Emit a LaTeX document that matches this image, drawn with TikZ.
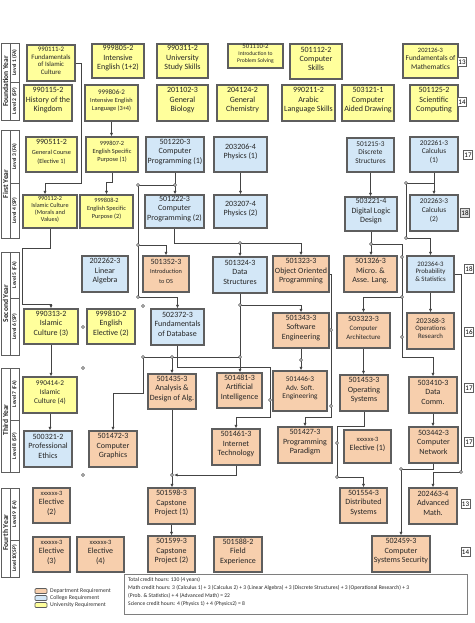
\documentclass[tikz,border=0pt]{standalone}
\usepackage{fontspec}
\setmainfont{Carlito}
\usetikzlibrary{arrows.meta,fit,calc}
\definecolor{yel}{HTML}{FFFF9C}
\definecolor{blu}{HTML}{D3E7F7}
\definecolor{pch}{HTML}{F7CFAD}
\definecolor{brd}{HTML}{5E5E5E}
\definecolor{lnc}{HTML}{444444}
\newcommand\cb[7]{\node[#2, fit={(#3,#4) (#5,#6)}] (#1) {#7};}
\newcommand\sml[1]{{\fontsize{6.3}{7.5}\selectfont #1}}
\tikzset{
  bx/.style={draw=brd, line width=1.1pt, align=center, inner sep=0pt, text=black!85},
  uni/.style={bx, fill=yel},
  col/.style={bx, fill=blu},
  dep/.style={bx, fill=pch},
  f8/.style={font=\fontsize{8}{9.4}\selectfont},
  f7/.style={font=\fontsize{7.3}{8.6}\selectfont},
  f65/.style={font=\fontsize{6.8}{7.6}\selectfont},
  f6/.style={font=\fontsize{6.3}{8}\selectfont},
  f6t/.style={font=\fontsize{6.2}{7.1}\selectfont},
  f55/.style={font=\fontsize{5.6}{6.6}\selectfont},
  cn/.style={draw=lnc, line width=0.9pt},
  arr/.style={cn, -{Latex[length=3.6pt,width=3.2pt]}},
  jc/.style={circle, draw=lnc, fill=white, inner sep=0pt, minimum size=3pt, line width=0.6pt},
  cr/.style={draw=brd, line width=0.7pt, fill=white, font=\fontsize{7}{8}\selectfont, inner sep=0.8pt, minimum size=9pt},
  yr/.style={rotate=90, font=\bfseries\fontsize{7.5}{8}\selectfont, text=black!85},
  lv/.style={rotate=90, font=\bfseries\fontsize{5.6}{6}\selectfont, text=black!85},
  lbox/.style={draw=brd, line width=0.7pt},
  sw/.style={draw=brd, line width=0.7pt, rounded corners=1pt, minimum width=12pt, minimum height=5pt, inner sep=0pt}
}
\begin{document}
\begin{tikzpicture}[x=1pt,y=-1pt]
\useasboundingbox (0,0) rectangle (474,623);
\fill[white] (0,0) rectangle (474,623);

% ---------- left year / level column ----------
\newcommand\yearcol[7]{%
  \draw[lbox] (1,#1) rectangle (19,#3);
  \draw[lbox] (10,#1) -- (10,#3);
  \draw[lbox] (10,#2) -- (19,#2);
  \node[yr] (#7) at (5.5,{(#1+#3)/2}) {#4};
  \node[lv] (#7a) at (14.5,{(#1+#2)/2}) {#5};
  \node[lv] (#7b) at (14.5,{(#2+#3)/2}) {#6};}
\yearcol{43}{82}{120}{Foundation Year}{Level 1 (FA)}{Level 2 (SP)}{yF}
\yearcol{130}{183}{238}{First Year}{Level 3 (FA)}{Level 4 (SP)}{y1}
\yearcol{252}{298}{355}{Second Year}{Level 5 (FA)}{Level 6 (SP)}{y2}
\yearcol{368}{420}{472}{Third Year}{Level 7 (FA)}{Level 8 (SP)}{y3}
\yearcol{488}{540}{577}{Fourth Year}{Level 9 (FA)}{Level10(SP)}{y4}

% ---------- row 1 ----------
\cb{c990111}{uni,f65}{27}{45}{75}{81}{990111-2\\Fundamentals\\of Islamic\\Culture}
\cb{c999805}{uni,f8}{92}{44}{144}{78}{999805-2\\Intensive\\English (1+2)}
\cb{c990311}{uni,f8}{157}{44}{208}{78}{990311-2\\University\\Study Skills}
\cb{c501110}{uni,f55}{228}{44}{283}{68}{{\fontsize{6.8}{8}\selectfont 501110-2}\\Introduction to\\Problem Solving}
\cb{c501112}{uni,f8}{290}{44}{342}{79}{501112-2\\Computer\\Skills}
\cb{c202126}{uni,f7}{403}{44}{458}{78}{{\fontsize{6.5}{8}\selectfont 202126-3}\\Fundamentals of\\Mathematics}
% ---------- row 2 ----------
\cb{c990115}{uni,f8}{24}{85}{72}{121}{990115-2\\History of the\\Kingdom}
\cb{c999806}{uni,f6}{85}{85}{138}{121}{{\fontsize{7}{8}\selectfont 999806-2}\\Intensive English\\Language (3+4)}
\cb{c201102}{uni,f8}{157}{85}{208}{121}{201102-3\\General\\Biology}
\cb{c204124}{uni,f8}{217}{85}{268}{121}{204124-2\\General\\Chemistry}
\cb{c990211}{uni,f8}{282}{85}{335}{121}{990211-2\\Arabic\\Language Skills}
\cb{c503121}{uni,f8}{342}{85}{394}{121}{503121-1\\Computer\\Aided Drawing}
\cb{c501125}{uni,f8}{410}{85}{458}{121}{501125-2\\Scientific\\Computing}
% ---------- row 3 ----------
\cb{c990511}{uni,f8}{26}{137}{77}{172}{990511-2\\\sml{General Course}\\\sml{(Elective 1)}}
\cb{c999807}{uni,f6}{86}{137}{138}{172}{999807-2\\English Specific\\Purpose (1)}
\cb{c501220}{col,f8}{146}{137}{204}{172}{501220-3\\Computer\\Programming (1)}
\cb{c203206}{col,f8}{214}{137}{267}{172}{203206-4\\Physics (1)}
\cb{c501215}{col,f7}{347}{138}{394}{172}{501215-3\\Discrete\\Structures}
\cb{c202261}{col,f7}{410}{137}{458}{172}{202261-3\\Calculus\\(1)}
% ---------- row 4 ----------
\cb{c990112}{uni,f6t}{23}{195}{77}{228}{990112-2\\Islamic Culture\\(Morals and\\Values)}
\cb{c999808}{uni,f6}{80}{195}{133}{228}{999808-2\\English Specific\\Purpose (2)}
\cb{c501222}{col,f8}{145}{195}{204}{228}{501222-3\\Computer\\Programming (2)}
\cb{c203207}{col,f8}{214}{195}{267}{228}{203207-4\\Physics (2)}
\cb{c503221}{col,f8}{345}{197}{397}{231}{503221-4\\Digital Logic\\Design}
\cb{c202263}{col,f7}{410}{195}{458}{231}{202263-3\\Calculus\\(2)}
% ---------- row 5 ----------
\cb{c202262}{col,f8}{82}{256}{128}{292}{202262-3\\Linear\\Algebra}
\cb{c501352}{dep,f8}{143}{256}{189}{292}{501352-3\\\sml{Introduction}\\\sml{to OS}}
\cb{c501324}{col,f8}{213}{257}{267}{293}{501324-3\\Data\\Structures}
\cb{c501323}{dep,f8}{273}{256}{329}{292}{501323-3\\Object Oriented\\Programming}
\cb{c501326}{dep,f8}{344}{256}{397}{292}{501326-3\\Micro. \&\\Asse. Lang.}
\cb{c202364}{col,f65}{407}{256}{454}{292}{202364-3\\Probability\\\& Statistics}
% ---------- row 6 ----------
\cb{c990313}{uni,f8}{24}{309}{78}{344}{990313-2\\Islamic\\Culture (3)}
\cb{c999810}{uni,f8}{87}{309}{135}{344}{999810-2\\English\\Elective (2)}
\cb{c502372}{col,f8}{151}{309}{204}{345}{502372-3\\Fundamentals\\of Database}
\cb{c501343}{dep,f8}{273}{313}{329}{348}{501343-3\\Software\\Engineering}
\cb{c503323}{dep,f8}{337}{313}{390}{348}{503323-3\\{\fontsize{6.8}{8}\selectfont Computer}\\{\fontsize{6.8}{8}\selectfont Architecture}}
\cb{c202368}{dep,f65}{407}{313}{454}{349}{{\fontsize{7.5}{8}\selectfont 202368-3}\\Operations\\Research}
% ---------- row 7 ----------
\cb{c990414}{uni,f7}{23}{377}{77}{413}{990414-2\\Islamic\\Culture (4)}
\cb{c501435}{dep,f8}{148}{374}{196}{409}{501435-3\\Analysis \&\\Design of Alg.}
\cb{c501481}{dep,f8}{217}{373}{262}{408}{501481-3\\Artificial\\Intelligence}
\cb{c501446}{dep,f7}{273}{371}{327}{411}{501446-3\\Adv. Soft.\\Engineering}
\cb{c501453}{dep,f8}{340}{375}{388}{411}{501453-3\\Operating\\Systems}
\cb{c503410}{dep,f8}{409}{377}{457}{413}{503410-3\\Data\\Comm.}
% ---------- row 8 ----------
\cb{c500321}{col,f8}{24}{431}{72}{467}{500321-2\\Professional\\Ethics}
\cb{c501472}{dep,f8}{89}{431}{137}{467}{501472-3\\Computer\\Graphics}
\cb{c501461}{dep,f8}{212}{429}{260}{465}{501461-3\\Internet\\Technology}
\cb{c501427}{dep,f8}{278}{427}{332}{463}{501427-3\\Programming\\Paradigm}
\cb{cel1}{dep,f8}{344}{430}{391}{463}{{\fontsize{6.5}{8}\selectfont xxxxxx-3}\\Elective (1)}
\cb{c503442}{dep,f8}{409}{427}{458}{463}{503442-3\\Computer\\Network}
% ---------- row 9 ----------
\cb{cel2}{dep,f8}{33}{488}{70}{523}{{\fontsize{6.5}{8}\selectfont xxxxxx-3}\\Elective\\(2)}
\cb{c501598}{dep,f8}{148}{488}{195}{524}{501598-3\\Capstone\\Project (1)}
\cb{c501554}{dep,f8}{340}{488}{387}{523}{501554-3\\Distributed\\Systems}
\cb{c202463}{dep,f8}{409}{488}{457}{524}{202463-4\\Advanced\\Math.}
% ---------- row 10 ----------
\cb{cel3}{dep,f8}{33}{537}{70}{572}{{\fontsize{6.5}{8}\selectfont xxxxxx-3}\\Elective\\(3)}
\cb{cel4}{dep,f8}{77}{537}{124}{572}{{\fontsize{6.5}{8}\selectfont xxxxxx-3}\\Elective\\(4)}
\cb{c501599}{dep,f8}{148}{536}{195}{572}{501599-3\\Capstone\\Project (2)}
\cb{c501588}{dep,f8}{214}{537}{262}{572}{501588-2\\Field\\Experience}
\cb{c502459}{dep,f8}{372}{536}{430}{572}{502459-3\\Computer\\Systems Security}

% ---------- credit hours per level ----------
\node[cr] (k1) at (462,62) {13};
\node[cr] (k2) at (462,102) {14};
\node[cr] (k3) at (468,155) {17};
\node[cr, fill=gray!25] (k4) at (465,213) {18};
\node[cr] (k5) at (469,269) {18};
\node[cr] (k6) at (469,332) {16};
\node[cr] (k7) at (469,388) {17};
\node[cr] (k8) at (469,442) {17};
\node[cr] (k9) at (465.5,504) {13};
\node[cr] (k10) at (465.5,552) {14};

% ---------- connectors ----------
% university track
\draw[arr] (c990111.east) -| (81,183) -| ([xshift=-5pt]c990112.north);
\draw[arr] (c999806.south) -- (c999806.south |- c999807.north);
\draw[arr] (c999807.south) |- ([yshift=12pt]c999808.north) -- (c999808.north);
\draw[arr] (c990112.south) -- (50,248) -- (22,248) -- (22,304) -| (c990313.north);
\draw[arr] (c990313.south) -- (c990313.south |- c990414.north);
\draw[arr] (c990414.south) -- (c990414.south |- c500321.north);

% programming 1
\coordinate (jA) at (c501220.south |- 0,185);
\coordinate (jA1) at (138,185);
\coordinate (jA2) at (138,245);
\coordinate (jA3) at (138,297);
\draw[arr] (c501220.south) -- (c501220.south |- c501222.north);
\draw[cn] (jA) -- (jA1) -- (jA3);
\draw[arr] (jA2) -| (c501352.north);
\draw[arr] (jA3) -| (c502372.north);

% programming 2
\coordinate (jB) at (c501324.north |- 0,243);
\draw[arr] (c501222.south) |- (c501323.north |- 0,243) -- (c501323.north);
\draw[arr] (jB) -- (c501324.north);

% physics
\draw[arr] (c203206.south) -- (c203207.north);
% discrete -> digital logic
\draw[arr] (c501215.south) -- (c501215.south |- c503221.north);
% calculus
\coordinate (jC1) at (406,183);
\coordinate (jC2) at (406,238);
\draw[arr] (c202261.south) -- (c202261.south |- c202263.north);
\draw[cn] (c202261.south |- 0,183) -- (jC1) -- (jC2);
\draw[arr] (jC2) -| (c202364.north);

% digital logic
\coordinate (jD) at (c503221.south |- 0,244);
\coordinate (jD1) at (402,244);
\coordinate (jD2) at (402,257);
\coordinate (jD3) at (402,297);
\coordinate (jD4) at (402,337);
\draw[arr] (c503221.south) -- (c503221.south |- c501326.north);
\draw[arr] (jD) -- (jD1) -- (402,357) -| (c503410.north);
\draw[arr] (jD3) -| (c503323.north);

% probability
\draw[arr] (c202364.south) -- (c202364.south |- c202368.north);
\coordinate (jP) at (461,472);
\draw[arr] (c202364.east) -| (jP) -| (c202463.north);

% data comm / network
\draw[arr] (c503410.south) -- (c503410.south |- c503442.north);
\coordinate (jN) at (401,469);
\draw[arr] (c503442.south) |- (jN) -- (jN |- c502459.north);

% OOP -> paradigm
\coordinate (jO1) at (331,330);
\coordinate (jO2) at (331,406);
\draw[arr] (c501323.east) -| (331,417) -| (c501427.north);

% data structures
\coordinate (jS1) at (c501324.south |- 0,305);
\coordinate (jS2) at (c501324.south |- 0,357);
\coordinate (jS3) at (172,357);
\coordinate (jS4) at (143,357);
\draw[arr] (c501324.south) |- (c501343.north |- 0,305) -- (c501343.north);
\draw[arr] (jS1) -- (c501324.south |- c501481.north);
\draw[cn] (jS2) -- (jS4);
\draw[arr] (jS3) -- (c501435.north);
\draw[arr] (jS4) -- (143,393) -| (c501472.north);

% database -> internet technology
\coordinate (jT) at (270,400);
\draw[arr] (c502372.south) |- (270,367) -- (270,417) -| (c501461.north);

% SE -> Adv SE
\coordinate (jE) at (c501343.south |- 0,360);
\draw[arr] (c501343.south) -- (c501343.south |- c501446.north);
% Comp arch -> OS
\draw[arr] (c503323.south) -- (c503323.south |- c501453.north);
% OS -> distributed
\coordinate (jO3) at (337,443);
\coordinate (jO4) at (337,477);
\draw[arr] (c501453.south) |- (337,426) -- (jO4) -| (c501554.north);
% capstone
\coordinate (jK) at (c501435.south |- 0,475);
\draw[arr] (c501435.south) -- (c501435.south |- c501598.north);
\draw[arr] (c501461.south) |- ([xshift=2pt]jK);
\draw[arr] (c501598.south) -- (c501598.south |- c501599.north);

% junction / connection circles
\foreach \p in {jA,jA1,jA2,jA3,jB,jC1,jC2,jD,jD2,jD3,jD4,jP,jN,jO1,jO2,jS1,jS2,jS3,jS4,jT,jE,jO3,jO4,jK}
  \node[jc] at (\p) {};
\node[jc] (s1) at (143,306) {};
\node[jc] (s2) at (83,327) {};
\node[jc] (s3) at (83,368) {};
\node[jc] (s4) at (83,475) {};

% ---------- legend ----------
\node[sw, fill=pch] (lg1) at (41,591) {};
\node[sw, fill=blu] (lg2) at (41,598) {};
\node[sw, fill=yel] (lg3) at (41,605) {};
\node[anchor=west, inner sep=0pt, font=\fontsize{5.8}{7}\selectfont, text=black!80] (lt1) at (50,591) {Department Requirement};
\node[anchor=west, inner sep=0pt, font=\fontsize{5.8}{7}\selectfont, text=black!80] (lt2) at (50,598) {College Requirement};
\node[anchor=west, inner sep=0pt, font=\fontsize{5.8}{7}\selectfont, text=black!80] (lt3) at (50,605) {University Requirement};

% ---------- totals ----------
\node[draw=brd!80, line width=0.8pt, fit={(124,574) (467,614)}, inner sep=0pt] (tot) {};
\node[anchor=north west, align=left, inner sep=0pt, font=\fontsize{5.6}{7.9}\selectfont, text=black!85] (tott) at (128,577.5)
 {Total credit hours: 130 (4 years)\\
  Math credit hours: 3 (Calculus 1) + 3 (Calculus 2) + 3 (Linear Algebra) + 3 (Discrete Structures) + 3 (Operational Research) + 3\\
  (Prob. \& Statistics) + 4 (Advanced Math) = 22\\
  Science credit hours: 4 (Physics 1) + 4 (Physics2) = 8};
\end{tikzpicture}
\end{document}
